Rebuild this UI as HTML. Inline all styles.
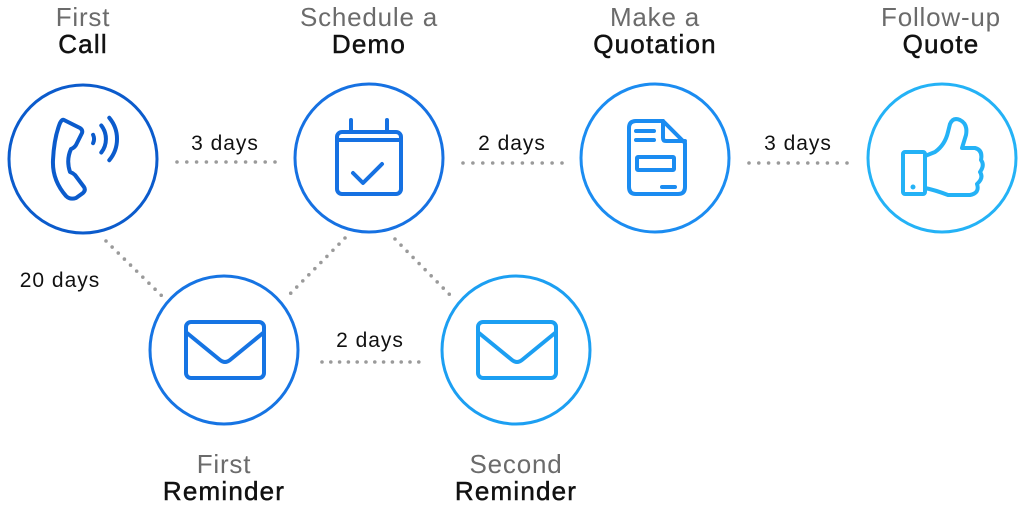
<!DOCTYPE html>
<html>
<head>
<meta charset="utf-8">
<style>
html,body{margin:0;padding:0;background:#fff;}
body{width:1024px;height:512px;overflow:hidden;}
svg{display:block;}
.t1{font-family:"Liberation Sans",sans-serif;font-size:26px;fill:#6b6b6b;letter-spacing:0.8px;}
.t2{font-family:"Liberation Sans",sans-serif;font-size:26px;fill:#111;letter-spacing:1.2px;stroke:#111;stroke-width:0.5px;}
.d{font-family:"Liberation Sans",sans-serif;font-size:21px;fill:#111;letter-spacing:1px;}
.dot{stroke:#9a9a9a;stroke-width:3.6;stroke-linecap:round;fill:none;}
.c{fill:none;stroke-width:3;}
.i{fill:none;stroke-width:4;stroke-linecap:round;stroke-linejoin:round;}
</style>
</head>
<body>
<svg width="1024" height="512" viewBox="0 0 1024 512" xmlns="http://www.w3.org/2000/svg">
  <!-- titles -->
  <text class="t1" x="83" y="26" text-anchor="middle">First</text>
  <text class="t2" x="83" y="53" text-anchor="middle">Call</text>
  <text class="t1" x="369" y="26" text-anchor="middle">Schedule a</text>
  <text class="t2" x="369" y="53" text-anchor="middle">Demo</text>
  <text class="t1" x="655" y="26" text-anchor="middle">Make a</text>
  <text class="t2" x="655" y="53" text-anchor="middle">Quotation</text>
  <text class="t1" x="941" y="26" text-anchor="middle">Follow-up</text>
  <text class="t2" x="941" y="53" text-anchor="middle">Quote</text>
  <text class="t1" x="224" y="473" text-anchor="middle">First</text>
  <text class="t2" x="224" y="500" text-anchor="middle">Reminder</text>
  <text class="t1" x="516" y="473" text-anchor="middle">Second</text>
  <text class="t2" x="516" y="500" text-anchor="middle">Reminder</text>

  <!-- day labels -->
  <text class="d" x="225" y="150" text-anchor="middle">3 days</text>
  <text class="d" x="512" y="150" text-anchor="middle">2 days</text>
  <text class="d" x="798" y="150" text-anchor="middle">3 days</text>
  <text class="d" x="60" y="287" text-anchor="middle">20 days</text>
  <text class="d" x="370" y="347" text-anchor="middle">2 days</text>

  <!-- dotted connectors -->
  <path class="dot" stroke-dasharray="0 9.8" d="M177,162 L277,162"/>
  <path class="dot" stroke-dasharray="0 9.9" d="M463,163 L564,163"/>
  <path class="dot" stroke-dasharray="0 9.8" d="M749,163 L849,163"/>
  <path class="dot" stroke-dasharray="0 8.8" d="M322,362 L421,362"/>
  <path class="dot" stroke-dasharray="0 8.6" d="M106,241 L163,297"/>
  <path class="dot" stroke-dasharray="0 8.6" d="M345,238 L286,298"/>
  <path class="dot" stroke-dasharray="0 8.6" d="M395,239 L452,297"/>

  <!-- First Call -->
  <g stroke="#0b5bcc">
    <circle class="c" cx="83" cy="159" r="74"/>
    <path class="i" d="M64,120 L80,128 Q83,130 82,133 L76,145 Q74,148 71,149 Q66,160 70,172 Q73,173 75,175 L84,187 Q86,190 83,193 L76,198 Q70,200 66,196 Q52,180 53,160 Q54,138 60,123 Q62,119 64,120 Z"/>
    <path class="i" d="M93.1,134.8 A10,10 0 0 1 93.1,143.2"/>
    <path class="i" d="M101.3,125.5 A22,22 0 0 1 101.3,152.5"/>
    <path class="i" d="M109.3,117.8 A33,33 0 0 1 109.3,160.2"/>
  </g>

  <!-- Schedule a Demo -->
  <g stroke="#1671e2">
    <circle class="c" cx="369" cy="158" r="74"/>
    <rect class="i" x="337" y="132" width="64" height="62" rx="5"/>
    <path class="i" d="M337,140 L401,140"/>
    <path class="i" d="M351,120 L351,132 M387,120 L387,132"/>
    <path class="i" d="M353,173 L363,183 L382,164"/>
  </g>

  <!-- Make a Quotation -->
  <g stroke="#1b8cf1">
    <circle class="c" cx="655" cy="158" r="74"/>
    <path class="i" d="M636,121 L663,121 L685,143 L685,187 Q685,194 678,194 L636,194 Q629,194 629,187 L629,128 Q629,121 636,121 Z"/>
    <path class="i" d="M663,121 L663,138 Q663,141 666,141 L685,141"/>
    <path class="i" d="M636,131 L654,131 M636,140 L654,140"/>
    <rect class="i" x="637" y="157" width="37" height="13" rx="1"/>
    <path class="i" d="M662,187 L675,187"/>
  </g>

  <!-- Follow-up Quote -->
  <g stroke="#24b2f6">
    <circle class="c" cx="942" cy="158" r="74"/>
    <rect class="i" x="903" y="152" width="22" height="42" rx="2"/>
    <circle cx="913" cy="187" r="2.5" fill="#24b2f6" stroke="none"/>
    <path class="i" d="M925,156 L935,152 Q945,145 948,132 L950,124 Q953,117 960,120 Q968,124 966,135 L962,148 L975,148 Q983,150 981,160 Q985,165 980,172 Q984,178 977,184 Q980,193 970,195 L948,195 Q935,190 925,188"/>
  </g>

  <!-- First Reminder -->
  <g stroke="#1674e3">
    <circle class="c" cx="224" cy="350" r="74"/>
    <rect class="i" x="186" y="322" width="78" height="56" rx="5"/>
    <path class="i" d="M187,333 L220,360 Q225,364 230,360 L263,333"/>
  </g>

  <!-- Second Reminder -->
  <g stroke="#1c9ff2">
    <circle class="c" cx="516" cy="350" r="74"/>
    <rect class="i" x="478" y="322" width="78" height="56" rx="5"/>
    <path class="i" d="M479,333 L512,360 Q517,364 522,360 L555,333"/>
  </g>
</svg>
</body>
</html>
